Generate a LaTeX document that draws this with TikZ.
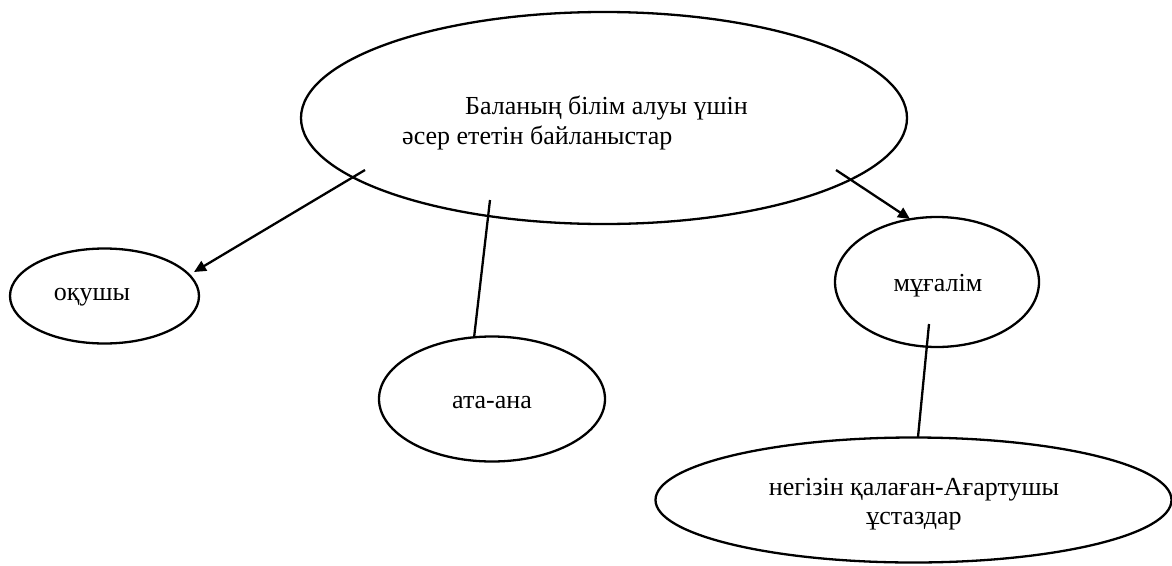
\documentclass[tikz,border=0pt]{standalone}
\usepackage{fontspec}
\setmainfont{Liberation Serif}
\usetikzlibrary{shapes.geometric,arrows.meta}
\begin{document}
\begin{tikzpicture}[x=1pt,y=-1pt,
  ell/.style={draw,line width=2.3pt,ellipse,inner sep=0pt},
  txt/.style={font=\fontsize{26}{30}\selectfont,inner sep=0pt},
  conn/.style={line width=2.3pt},
  arr/.style={conn,-{Triangle[length=12pt,width=11pt]}}]
\useasboundingbox (0,0) rectangle (1172,565);
\node[ell,minimum width=606pt,minimum height=212pt] (main) at (604,118) {};
\node[txt,anchor=west] (t1) at (465,108) {Баланың білім алуы үшін};
\node[txt,anchor=west] (t2) at (402,138) {әсер ететін байланыстар};
\node[ell,minimum width=189pt,minimum height=95pt] (ok) at (104.5,296) {};
\node[txt] (okt) at (92,297) {оқушы};
\node[ell,minimum width=226pt,minimum height=125pt] (ata) at (492,399) {};
\node[txt] (atat) at (492,403) {ата-ана};
\node[ell,minimum width=204pt,minimum height=130pt] (mug) at (937,282) {};
\node[txt] (mugt) at (938,286) {мұғалім};
\node[ell,minimum width=516pt,minimum height=125pt] (neg) at (913.5,500) {};
\node[txt] (negt1) at (914,490) {негізін қалаған-Ағартушы};
\node[txt] (negt2) at (914,521) {ұстаздар};
\coordinate (s1) at (365,170);
\coordinate (e1) at (194,272);
\coordinate (s2) at (490,200);
\coordinate (e2) at (474,338);
\coordinate (s3) at (836,170);
\coordinate (e3) at (910,219);
\coordinate (s4) at (929,324);
\coordinate (e4) at (918,437);
\draw[arr] (s1) -- (e1);
\draw[conn] (s2) -- (e2);
\draw[arr] (s3) -- (e3);
\draw[conn] (s4) -- (e4);
\end{tikzpicture}
\end{document}
